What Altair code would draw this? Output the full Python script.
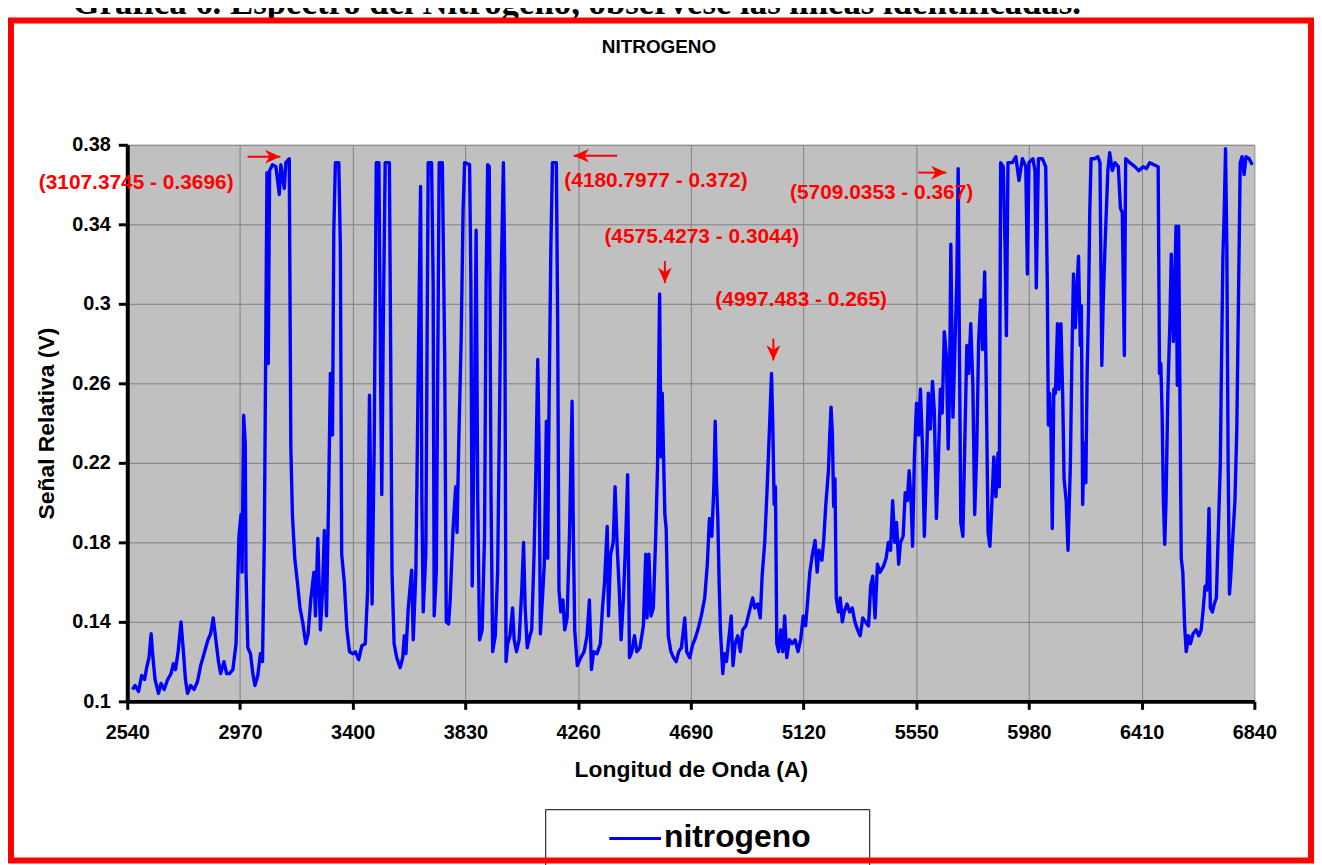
import altair as alt
import pandas as pd

# ---------------- data ----------------
WAVELENGTH = [
    2560, 2570, 2583, 2595, 2606, 2614, 2623, 2631, 2638, 2646, 2659, 2669, 2681, 2694, 2707, 2716,
    2724, 2734, 2745, 2753, 2762, 2770, 2782, 2795, 2808, 2820, 2835, 2848, 2858, 2868, 2878, 2888,
    2896, 2909, 2919, 2930, 2943, 2955, 2966, 2974, 2978, 2984, 2990, 2993, 3000, 3010, 3019, 3027,
    3038, 3048, 3056, 3063, 3068, 3073, 3078, 3083, 3094, 3107, 3120, 3126, 3139, 3145, 3158, 3164,
    3170, 3179, 3189, 3199, 3209, 3221, 3230, 3240, 3252,
    3258, 3267, 3277, 3285, 3292, 3300, 3308, 3315, 3323, 3328, 3334, 3347, 3353, 3358, 3368, 3378,
    3388, 3401, 3410, 3423, 3435, 3448, 3457, 3464, 3469, 3474, 3482, 3490, 3500, 3507, 3511, 3517,
    3524, 3540, 3545, 3550, 3558, 3568, 3581, 3591, 3597, 3603, 3612, 3625, 3631, 3641, 3650, 3659,
    3664, 3669, 3679, 3688, 3701, 3707, 3711, 3719, 3730, 3742, 3751, 3757, 3766, 3772, 3783, 3793,
    3798, 3805, 3814, 3821, 3827, 3846, 3851, 3856, 3865, 3871, 3877, 3884, 3894, 3903, 3909, 3915,
    3921, 3928, 3934, 3944, 3953, 3966, 3975, 3980,
    3985, 3991, 4000, 4010, 4016, 4025, 4035, 4045, 4052, 4058, 4066, 4076, 4083, 4092, 4098, 4106,
    4111, 4116, 4124, 4131, 4139, 4144, 4149, 4156, 4162, 4177, 4182, 4187, 4194, 4202, 4209, 4218,
    4227, 4237, 4242, 4247, 4257, 4270, 4283, 4294, 4303, 4311, 4319, 4332, 4345, 4353, 4361, 4371,
    4376, 4384, 4394, 4401, 4409, 4417, 4424, 4433, 4442, 4449, 4456, 4465, 4475, 4484, 4496, 4509,
    4518, 4523, 4530, 4538, 4547, 4556, 4563, 4571, 4576, 4581, 4586, 4591, 4596, 4604, 4614, 4624,
    4634, 4644, 4654, 4667, 4674, 4686, 4698,
    4705, 4717, 4730, 4743, 4753, 4761, 4770, 4778, 4783, 4788, 4793, 4798, 4803, 4812, 4818, 4826,
    4833, 4844, 4851, 4859, 4869, 4879, 4888, 4900, 4913, 4926, 4934, 4945, 4955, 4962, 4972, 4982,
    4990, 4998, 5003, 5008, 5013, 5018, 5025, 5033, 5041, 5048, 5056, 5066, 5077, 5088, 5099, 5109,
    5119, 5128, 5136, 5144, 5154, 5164, 5172, 5179, 5190, 5197, 5205, 5215, 5220, 5225, 5230, 5235,
    5240, 5245, 5253, 5260, 5268, 5275, 5286, 5296, 5306, 5316, 5326, 5336, 5346, 5356, 5368, 5376,
    5384, 5393, 5402, 5412, 5425,
    5435, 5444, 5452, 5460, 5468, 5475, 5483, 5490, 5500, 5508, 5516, 5523, 5531, 5536, 5543, 5551,
    5559, 5566, 5574, 5581, 5589, 5596, 5604, 5612, 5619, 5627, 5634, 5642, 5649, 5657, 5665, 5672,
    5677, 5682, 5690, 5697, 5705, 5710, 5715, 5720, 5728, 5735, 5743, 5750, 5758, 5766, 5773, 5781,
    5788, 5796, 5803, 5811, 5816, 5824, 5831, 5839, 5846, 5854, 5862, 5867, 5872, 5882, 5889, 5894,
    5900, 5917, 5930, 5942, 5955, 5968, 5974, 5980, 5995, 6003, 6008, 6016, 6031, 6044, 6050, 6054,
    6059, 6064, 6069, 6075, 6081, 6089, 6094, 6102, 6109, 6114, 6122, 6129,
    6138, 6144, 6150, 6157, 6163, 6169, 6176, 6180, 6185, 6190, 6197, 6202, 6207, 6212, 6217, 6230,
    6243, 6251, 6258, 6263, 6270, 6281, 6288, 6298, 6308, 6321, 6329, 6336, 6344, 6349, 6365, 6384,
    6399, 6416, 6428, 6441, 6457, 6473, 6478, 6483, 6488, 6493, 6498, 6503, 6510, 6518, 6523, 6531,
    6536, 6541, 6546, 6551, 6556, 6561, 6567, 6574, 6580, 6589, 6596, 6606, 6618, 6628, 6637, 6644,
    6652, 6659, 6667, 6672, 6680, 6687, 6695, 6702, 6710, 6715, 6720, 6725, 6730, 6735, 6740, 6745,
    6750, 6758, 6766, 6773, 6781, 6786, 6793, 6801, 6808, 6820, 6832,
]

SIGNAL = [
    0.106, 0.108, 0.105, 0.113, 0.111, 0.117, 0.122, 0.134, 0.122, 0.111, 0.104, 0.109, 0.106, 0.111, 0.114, 0.119,
    0.116, 0.125, 0.140, 0.127, 0.111, 0.104, 0.108, 0.106, 0.110, 0.118, 0.125, 0.131, 0.134, 0.142, 0.131, 0.120,
    0.114, 0.120, 0.114, 0.114, 0.116, 0.129, 0.183, 0.194, 0.165, 0.244, 0.230, 0.165, 0.127, 0.124, 0.114, 0.108,
    0.113, 0.124, 0.120, 0.183, 0.274, 0.366, 0.270, 0.367, 0.370, 0.369, 0.355, 0.370, 0.358, 0.371, 0.373, 0.228,
    0.194, 0.172, 0.160, 0.147, 0.140, 0.129, 0.134, 0.151, 0.165,
    0.143, 0.182, 0.136, 0.156, 0.186, 0.143, 0.201, 0.265, 0.234, 0.337, 0.371, 0.371, 0.329, 0.174, 0.160, 0.136,
    0.125, 0.124, 0.125, 0.121, 0.128, 0.129, 0.156, 0.254, 0.201, 0.149, 0.228, 0.371, 0.371, 0.255, 0.204, 0.292,
    0.371, 0.371, 0.274, 0.165, 0.129, 0.122, 0.117, 0.122, 0.133, 0.124, 0.147, 0.166, 0.131, 0.165, 0.265, 0.359,
    0.201, 0.145, 0.174, 0.371, 0.371, 0.310, 0.143, 0.165, 0.371, 0.371, 0.274, 0.140, 0.139, 0.151, 0.187, 0.208,
    0.185, 0.232, 0.283, 0.346, 0.371, 0.370, 0.310, 0.158, 0.255, 0.337, 0.201, 0.131, 0.136, 0.183, 0.310, 0.370,
    0.369, 0.201, 0.125, 0.133, 0.165, 0.310, 0.371, 0.319,
    0.120, 0.129, 0.133, 0.147, 0.131, 0.125, 0.131, 0.156, 0.180, 0.147, 0.127, 0.133, 0.136, 0.174, 0.210, 0.272,
    0.228, 0.134, 0.152, 0.169, 0.241, 0.172, 0.246, 0.328, 0.371, 0.371, 0.292, 0.156, 0.145, 0.151, 0.136, 0.142,
    0.183, 0.251, 0.183, 0.136, 0.118, 0.122, 0.125, 0.133, 0.151, 0.116, 0.125, 0.124, 0.129, 0.147, 0.160, 0.188,
    0.143, 0.174, 0.180, 0.208, 0.178, 0.156, 0.131, 0.152, 0.183, 0.214, 0.122, 0.125, 0.133, 0.125, 0.127, 0.138,
    0.174, 0.142, 0.174, 0.143, 0.147, 0.183, 0.218, 0.305, 0.223, 0.255, 0.223, 0.194, 0.187, 0.133, 0.125, 0.122,
    0.120, 0.125, 0.127, 0.142, 0.125, 0.122, 0.129,
    0.131, 0.136, 0.143, 0.152, 0.169, 0.192, 0.183, 0.208, 0.241, 0.210, 0.192, 0.160, 0.136, 0.114, 0.124, 0.120,
    0.129, 0.143, 0.118, 0.129, 0.133, 0.125, 0.136, 0.138, 0.145, 0.152, 0.147, 0.149, 0.142, 0.163, 0.180, 0.210,
    0.237, 0.265, 0.237, 0.199, 0.208, 0.129, 0.125, 0.136, 0.125, 0.143, 0.122, 0.131, 0.129, 0.131, 0.125, 0.131,
    0.143, 0.138, 0.151, 0.165, 0.174, 0.181, 0.165, 0.176, 0.171, 0.181, 0.199, 0.216, 0.234, 0.248, 0.235, 0.198,
    0.212, 0.152, 0.145, 0.152, 0.140, 0.145, 0.149, 0.145, 0.147, 0.140, 0.136, 0.133, 0.142, 0.140, 0.138, 0.158,
    0.163, 0.142, 0.169, 0.165, 0.168,
    0.172, 0.180, 0.176, 0.201, 0.180, 0.190, 0.169, 0.180, 0.183, 0.205, 0.201, 0.216, 0.199, 0.178, 0.223, 0.250,
    0.234, 0.257, 0.227, 0.183, 0.219, 0.255, 0.237, 0.261, 0.246, 0.192, 0.219, 0.257, 0.245, 0.286, 0.274, 0.227,
    0.255, 0.330, 0.243, 0.275, 0.313, 0.368, 0.274, 0.190, 0.183, 0.228, 0.279, 0.265, 0.290, 0.259, 0.194, 0.227,
    0.281, 0.302, 0.277, 0.316, 0.270, 0.185, 0.178, 0.201, 0.223, 0.203, 0.225, 0.208, 0.371, 0.369, 0.328, 0.284,
    0.371, 0.371, 0.374, 0.362, 0.373, 0.369, 0.315, 0.371, 0.373, 0.367, 0.308, 0.373, 0.373, 0.369, 0.310, 0.239,
    0.255, 0.237, 0.187, 0.257, 0.255, 0.290, 0.257, 0.290, 0.252, 0.212, 0.201, 0.176,
    0.219, 0.274, 0.315, 0.288, 0.306, 0.324, 0.279, 0.299, 0.199, 0.230, 0.210, 0.265, 0.295, 0.346, 0.373, 0.373,
    0.374, 0.371, 0.269, 0.299, 0.328, 0.367, 0.376, 0.367, 0.371, 0.369, 0.348, 0.346, 0.274, 0.373, 0.371, 0.369,
    0.367, 0.369, 0.368, 0.371, 0.370, 0.369, 0.265, 0.270, 0.245, 0.201, 0.179, 0.201, 0.255, 0.292, 0.325, 0.281,
    0.308, 0.339, 0.259, 0.339, 0.255, 0.172, 0.165, 0.138, 0.125, 0.133, 0.129, 0.134, 0.136, 0.133, 0.136, 0.145,
    0.158, 0.156, 0.197, 0.147, 0.145, 0.149, 0.152, 0.183, 0.219, 0.274, 0.324, 0.346, 0.378, 0.328, 0.219, 0.154,
    0.163, 0.183, 0.201, 0.237, 0.319, 0.371, 0.374, 0.365, 0.374, 0.373, 0.370,
]

SERIES = "nitrogeno"
CHART_TITLE = "NITROGENO"
CAPTION = "Gráfica 6. Espectro del Nitrógeno, obsérvese las líneas identificadas."
X_TITLE = "Longitud de Onda (A)"
Y_TITLE = "Señal Relativa (V)"

X_TICKS = [2540, 2970, 3400, 3830, 4260, 4690, 5120, 5550, 5980, 6410, 6840]
Y_TICKS = [0.1, 0.14, 0.18, 0.22, 0.26, 0.3, 0.34, 0.38]

# identified lines (labels placed in data coordinates)
ANNOT_TEXT = ["(3107.3745 - 0.3696)", "(4180.7977 - 0.372)", "(4575.4273 - 0.3044)",
              "(4997.483 - 0.265)", "(5709.0353 - 0.367)"]
ANNOT_X = [2574, 4557, 4732, 5111, 5418]
ANNOT_Y = [0.361, 0.362, 0.3335, 0.302, 0.3555]

# arrows: tail (x1, y1) -> head (x2, y2), head direction in degrees
ARROW_X1 = [2999, 4409, 5558, 4591, 5005]
ARROW_Y1 = [0.374, 0.3745, 0.366, 0.3215, 0.2825]
ARROW_X2 = [3124, 4243, 5665, 4591, 5005]
ARROW_Y2 = [0.374, 0.3745, 0.366, 0.3105, 0.2715]
ARROW_DIR = [0, 180, 0, 90, 90]

FONT = "Liberation Sans"
RED = "#FF0000"
BLUE = "#0000FF"

# ---------------- tables ----------------
spec_df = pd.DataFrame({"wavelength": WAVELENGTH, "signal": SIGNAL, "series": SERIES})
annot_df = pd.DataFrame({"wavelength": ANNOT_X, "signal": ANNOT_Y, "label": ANNOT_TEXT})
arrow_df = pd.DataFrame({"wavelength": ARROW_X1, "signal": ARROW_Y1,
                         "wavelength2": ARROW_X2, "signal2": ARROW_Y2, "dir": ARROW_DIR})
one = pd.DataFrame({"k": [0]})

x_scale = alt.Scale(domain=[2540, 6840], nice=False, zero=False)
y_scale = alt.Scale(domain=[0.1, 0.38], nice=False, zero=False)

x_enc = alt.X("wavelength:Q", scale=x_scale,
              axis=alt.Axis(values=X_TICKS, format="d", title=X_TITLE, labelFlush=False,
                            labelPadding=13, titlePadding=17, tickSize=8))
y_enc = alt.Y("signal:Q", scale=y_scale,
              axis=alt.Axis(values=Y_TICKS, format=".2~f", title=Y_TITLE, labelFlush=False,
                            labelPadding=8, titlePadding=13, tickSize=9))

line = alt.Chart(spec_df).mark_line(color=BLUE, strokeWidth=3.4, strokeJoin="round").encode(
    x=x_enc, y=y_enc)

annot_text = alt.Chart(annot_df).mark_text(
    color=RED, font=FONT, fontWeight="bold", fontSize=21, align="center", baseline="middle"
).encode(x=x_enc, y=y_enc, text="label:N")

arrow_shaft = alt.Chart(arrow_df).mark_rule(color=RED, strokeWidth=2).encode(
    x=x_enc, y=y_enc, x2="wavelength2:Q", y2="signal2:Q")

arrow_head = alt.Chart(arrow_df).mark_point(
    shape="M0,0 L-1,-0.45 L-0.7,0 L-1,0.45 Z", filled=True, color=RED, opacity=1, size=950
).encode(x=alt.X("wavelength2:Q", scale=x_scale), y=alt.Y("signal2:Q", scale=y_scale),
         angle=alt.Angle("dir:Q", scale=None))

# ---------------- decorations (pixel positions relative to the plot area) ----------------
caption = alt.Chart(one).mark_text(
    text=CAPTION, font="Liberation Serif", fontWeight="bold", fontSize=35,
    align="left", baseline="alphabetic", color="black"
).encode(x=alt.value(-55), y=alt.value(-132))

title = alt.Chart(one).mark_text(
    text=CHART_TITLE, font=FONT, fontWeight="bold", fontSize=19,
    align="center", baseline="middle", color="black"
).encode(x=alt.value(535), y=alt.value(-98))

legend_box = alt.Chart(one).mark_rect(fill="white", stroke="black", strokeWidth=1).encode(
    x=alt.value(421), x2=alt.value(747), y=alt.value(669), y2=alt.value(760))
legend_line = alt.Chart(one).mark_rule(color=BLUE, strokeWidth=3).encode(
    x=alt.value(485), x2=alt.value(537), y=alt.value(698))
legend_text = alt.Chart(one).mark_text(
    text=SERIES, font=FONT, fontWeight="bold", fontSize=32,
    align="left", baseline="middle", color="black"
).encode(x=alt.value(540), y=alt.value(697))

border = alt.Chart(one).mark_rect(fillOpacity=0, stroke=RED, strokeWidth=6).encode(
    x=alt.value(-117), x2=alt.value(1191), y=alt.value(-125), y2=alt.value(720))

chart = alt.layer(
    line, arrow_shaft, arrow_head, annot_text,
    caption, title, legend_box, legend_line, legend_text, border
).properties(
    width=1134, height=560,
    padding={"left": 120, "top": 135, "right": 60, "bottom": 162},
    autosize=alt.AutoSizeParams(type="none"),
    background="white",
).configure_view(
    fill="#C0C0C0", strokeWidth=0
).configure_axis(
    domainColor="black", domainWidth=4, tickColor="black", tickWidth=3,
    grid=True, gridColor="#808080", gridWidth=1,
    labelFont=FONT, labelFontWeight="bold", labelFontSize=20, labelColor="black",
    titleFont=FONT, titleFontWeight="bold", titleFontSize=23, titleColor="black",
)

chart.save("out.html", embed_options={"renderer": "svg", "actions": False})
